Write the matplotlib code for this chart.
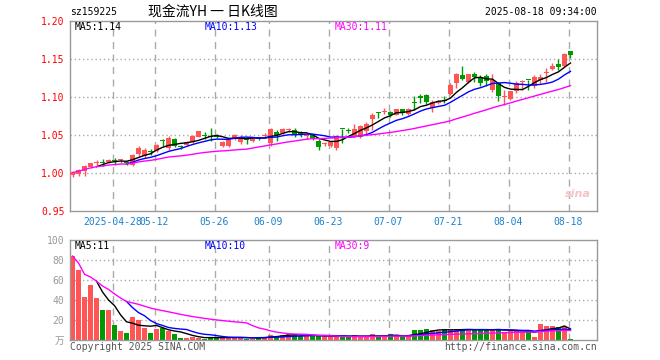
import math
import matplotlib
matplotlib.use("Agg")
import matplotlib.pyplot as plt
import numpy as np
import pandas as pd

# ---------------- data ----------------
opens = [0.998, 0.999, 1.003, 1.008, 1.014, 1.015, 1.015, 1.017, 1.017, 1.014,
         1.011, 1.025, 1.022, 1.029, 1.029, 1.043, 1.033, 1.045, 1.036, 1.037,
         1.041, 1.048, 1.050, 1.049, 1.050, 1.036, 1.036, 1.045, 1.041, 1.045,
         1.042, 1.046, 1.049, 1.040, 1.054, 1.053, 1.057, 1.057, 1.052, 1.0485,
         1.050, 1.043, 1.038, 1.036, 1.033, 1.058, 1.056, 1.048, 1.048, 1.055,
         1.071, 1.079, 1.0805, 1.081, 1.077, 1.084, 1.078, 1.093, 1.102, 1.103,
         1.0855, 1.092, 1.0965, 1.104, 1.118, 1.129, 1.1205, 1.131, 1.125, 1.128,
         1.1095, 1.119, 1.100, 1.0975, 1.1075, 1.120, 1.1225, 1.115, 1.122, 1.132,
         1.137, 1.144, 1.141, 1.161]
highs = [1.002, 1.006, 1.011, 1.014, 1.017, 1.019, 1.019, 1.020, 1.019, 1.016,
         1.025, 1.036, 1.033, 1.032, 1.039, 1.045, 1.049, 1.046, 1.037, 1.042,
         1.050, 1.056, 1.054, 1.059, 1.051, 1.043, 1.045, 1.051, 1.050, 1.047,
         1.046, 1.047, 1.053, 1.059, 1.057, 1.059, 1.059, 1.060, 1.055, 1.051,
         1.052, 1.045, 1.041, 1.043, 1.050, 1.0585, 1.059, 1.065, 1.063, 1.067,
         1.079, 1.080, 1.0855, 1.0815, 1.085, 1.085, 1.086, 1.102, 1.104, 1.104,
         1.096, 1.096, 1.101, 1.118, 1.132, 1.141, 1.131, 1.133, 1.129, 1.131,
         1.131, 1.120, 1.110, 1.108, 1.121, 1.123, 1.123, 1.129, 1.131, 1.138,
         1.145, 1.150, 1.158, 1.161]
lows = [0.995, 0.996, 0.997, 1.007, 1.011, 1.010, 1.014, 1.011, 1.013, 1.011,
        1.010, 1.023, 1.020, 1.024, 1.028, 1.036, 1.031, 1.034, 1.032, 1.036,
        1.040, 1.047, 1.045, 1.042, 1.046, 1.035, 1.035, 1.044, 1.039, 1.038,
        1.041, 1.044, 1.046, 1.036, 1.042, 1.052, 1.054, 1.048, 1.048, 1.045,
        1.044, 1.031, 1.036, 1.035, 1.030, 1.040, 1.0525, 1.047, 1.046, 1.052,
        1.057, 1.072, 1.0775, 1.074, 1.076, 1.077, 1.077, 1.083, 1.092, 1.091,
        1.080, 1.091, 1.092, 1.103, 1.112, 1.122, 1.119, 1.120, 1.114, 1.114,
        1.107, 1.095, 1.090, 1.096, 1.106, 1.110, 1.110, 1.112, 1.119, 1.120,
        1.135, 1.135, 1.140, 1.151]
closes = [1.001, 1.004, 1.010, 1.013, 1.015, 1.014, 1.018, 1.016, 1.0175, 1.013,
          1.024, 1.033, 1.030, 1.028, 1.037, 1.042, 1.046, 1.036, 1.035, 1.041,
          1.049, 1.055, 1.049, 1.048, 1.047, 1.041, 1.044, 1.050, 1.048, 1.044,
          1.045, 1.045, 1.050, 1.058, 1.050, 1.058, 1.0575, 1.050, 1.051, 1.049,
          1.046, 1.034, 1.039, 1.041, 1.049, 1.0575, 1.0555, 1.058, 1.062, 1.065,
          1.077, 1.0785, 1.081, 1.077, 1.084, 1.079, 1.084, 1.0925, 1.0985, 1.093,
          1.094, 1.095, 1.0955, 1.116, 1.131, 1.124, 1.130, 1.126, 1.119, 1.121,
          1.122, 1.101, 1.101, 1.1075, 1.119, 1.121, 1.122, 1.126, 1.127, 1.133,
          1.141, 1.139, 1.156, 1.155]
volumes = [84, 70, 43, 55, 42, 30, 30, 15, 9, 7,
           23, 20, 12, 7, 11, 12, 9, 6, 2.5, 2.5,
           3, 2.5, 1.5, 2.5, 2.5, 3, 2.5, 2.5, 2.5, 1.5,
           1.5, 3, 3, 5.5, 4, 5, 6, 6, 4, 4,
           4, 4, 4, 3, 3, 5, 3, 5, 3, 3,
           6, 3, 5, 6, 4, 3, 4, 10, 10, 11,
           10, 9, 11, 10, 11, 11, 10, 10, 10, 11,
           10, 11, 8, 9, 9, 8, 10, 3, 16, 14,
           14, 13, 13, 1]
date_labels = ["2025-04-28", "05-12", "05-26", "06-09", "06-23",
               "07-07", "07-21", "08-04", "08-18"]
date_index = [7, 14, 24, 33, 43, 53, 63, 73, 83]
price_ticks = [0.95, 1.00, 1.05, 1.10, 1.15, 1.20]
vol_ticks = [0, 20, 40, 60, 80, 100]
vol_tick_labels = ["万", "20", "40", "60", "80", "100"]

# ---------------- style ----------------
W, H = 660, 360
RED = "#FF5555"
GREEN = "#009A00"
GRID = "#AAAAAA"
SPINE = "#999999"
MONO = ["DejaVu Sans Mono", "Noto Sans CJK SC"]

def fx(px):
    return px / W

def fy(py):
    return 1 - py / H

o = np.array(opens); h = np.array(highs); l = np.array(lows); c = np.array(closes)
v = np.array(volumes, dtype=float)
x = np.arange(len(o))
col = np.where(c >= o, RED, GREEN)

cs = pd.Series(c)
ma5 = cs.rolling(5).mean()
ma10 = cs.rolling(10).mean()
ma30 = cs.rolling(30, min_periods=1).mean()
vs = pd.Series(v)
vma5 = vs.rolling(5).mean()
vma10 = vs.rolling(10).mean()
vma30 = vs.rolling(30, min_periods=1).mean()

fig = plt.figure(figsize=(6.6, 3.6), dpi=100)
fig.patch.set_facecolor("white")

ax = fig.add_axes([fx(70), fy(211.3), fx(527), 190.3 / H])
axv = fig.add_axes([fx(70), fy(340), fx(527), 100 / H])

xlim = (-0.42, 87.42)
grid_x = [i - 0.33 for i in date_index]

for a in (ax, axv):
    a.set_xlim(*xlim)
    for s in a.spines.values():
        s.set_color(SPINE)
        s.set_linewidth(1.0)
    for gx in grid_x:
        a.axvline(gx, color=GRID, lw=1, ls=(0, (5, 4)), zorder=0)
    a.tick_params(length=0)

# price panel
ax.set_ylim(0.95, 1.20)
ax.set_yticks(price_ticks)
ax.set_yticklabels([f"{t:.2f}" for t in price_ticks], color="red",
                   fontsize=7, family=MONO)
for t in price_ticks[1:-1]:
    ax.axhline(t, color=GRID, lw=1, ls=(0, (1, 2)), zorder=0)
ax.set_xticks(grid_x)
ax.set_xticklabels(date_labels, color="#1a80cc", fontsize=7, family=MONO)
ax.tick_params(axis="x", pad=4)
ax.tick_params(axis="y", pad=4)

ax.vlines(x, l, h, colors=col, lw=1, zorder=2)
body = np.maximum(np.abs(c - o), 0.0013)
ax.bar(x, body, bottom=np.minimum(o, c), width=0.78, color=col, lw=0, zorder=3)
ax.plot(x, ma5, color="black", lw=1, zorder=4)
ax.plot(x, ma10, color="#0000FF", lw=1, zorder=4)
ax.plot(x, ma30, color="#FF00FF", lw=1, zorder=4)

# volume panel
axv.set_ylim(0, 100)
axv.set_yticks(vol_ticks)
axv.set_yticklabels(vol_tick_labels, color="#999999", fontsize=7, family=MONO)
axv.tick_params(axis="y", pad=4)
axv.set_xticks([])
for t in vol_ticks[1:-1]:
    axv.axhline(t, color=GRID, lw=1, ls=(0, (1, 2)), zorder=0)
axv.bar(x, v, width=0.82, color=col, lw=0, zorder=2)
axv.plot(x, vma5, color="black", lw=1, zorder=4)
axv.plot(x, vma10, color="#0000FF", lw=1, zorder=4)
axv.plot(x, vma30, color="#FF00FF", lw=1, zorder=4)

def trunc(val, nd):
    f = 10 ** nd
    return f"{math.floor(val * f + 1e-9) / f:.{nd}f}"

# header texts
fig.text(fx(70), fy(12), "sz159225", fontsize=7, family=MONO, va="center", ha="left")
fig.text(fx(213), fy(12), "现金流YH 一 日K线图", fontsize=10,
         family=["Noto Sans CJK SC", "DejaVu Sans"], va="center", ha="center")
fig.text(fx(597), fy(12), "2025-08-18 09:34:00", fontsize=7, family=MONO,
         va="center", ha="right")

fig.text(fx(75), fy(26.5), "MA5:" + trunc(ma5.iloc[-1], 2), fontsize=7, family=MONO,
         color="black", va="center")
fig.text(fx(205), fy(26.5), "MA10:" + trunc(ma10.iloc[-1], 2), fontsize=7, family=MONO,
         color="#0000FF", va="center")
fig.text(fx(335), fy(26.5), "MA30:" + trunc(ma30.iloc[-1], 2), fontsize=7, family=MONO,
         color="#FF00FF", va="center")

fig.text(fx(75), fy(246), "MA5:" + trunc(vma5.iloc[-1], 0).rstrip("."), fontsize=7,
         family=MONO, color="black", va="center")
fig.text(fx(205), fy(246), "MA10:" + trunc(vma10.iloc[-1], 0).rstrip("."), fontsize=7,
         family=MONO, color="#0000FF", va="center")
fig.text(fx(335), fy(246), "MA30:" + trunc(vma30.iloc[-1], 0).rstrip("."), fontsize=7,
         family=MONO, color="#FF00FF", va="center")

fig.text(fx(70), fy(347), "Copyright 2025 SINA.COM", fontsize=7, family=MONO,
         color="#555555", va="center", ha="left")
fig.text(fx(597), fy(347), "http://finance.sina.com.cn", fontsize=7, family=MONO,
         color="#555555", va="center", ha="right")

# faint sina watermark
fig.text(fx(578), fy(194), "sina", fontsize=8, style="italic", weight="bold",
         color="#F3C4C4", va="center", ha="center")

fig.savefig("out.png", dpi=100)
